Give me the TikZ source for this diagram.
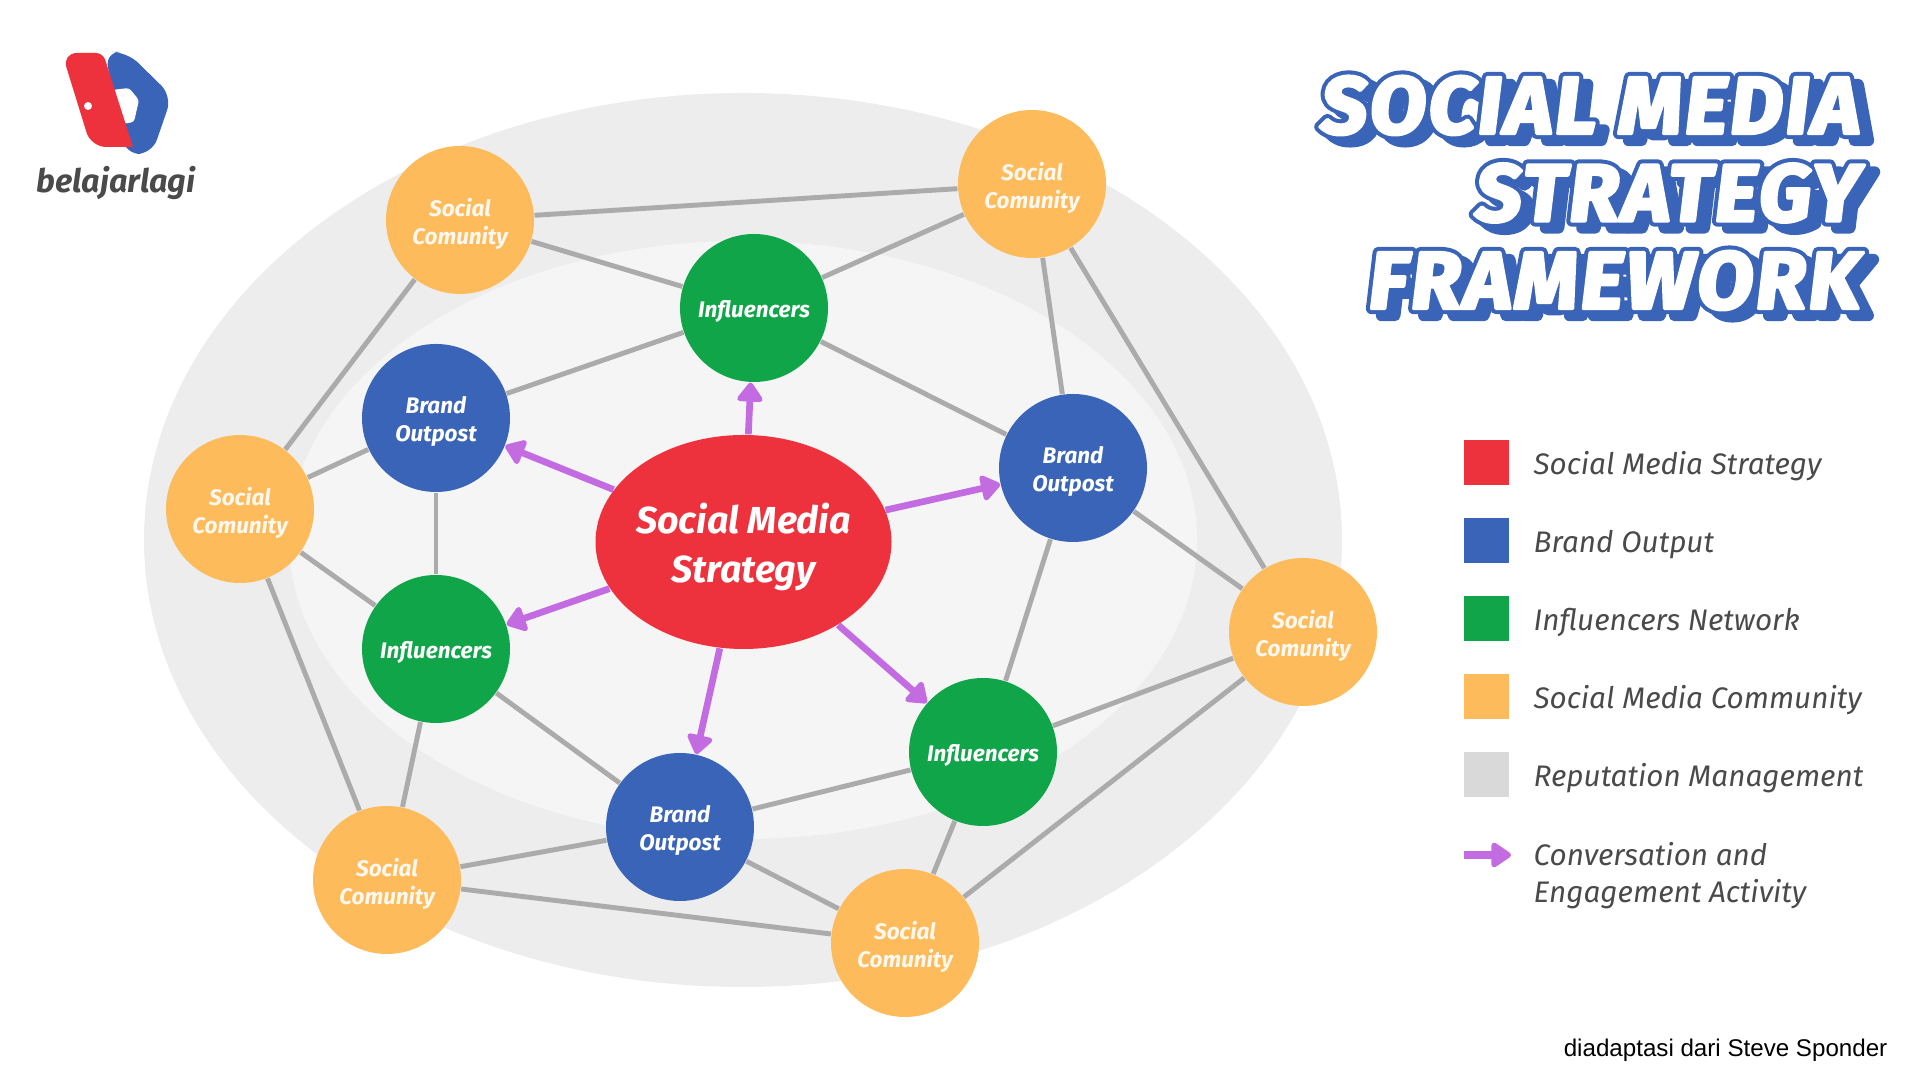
\documentclass[tikz,border=0pt]{standalone}
\usepackage{fontspec}
\setmainfont{Fira Sans}
\newfontfamily\titleback[FakeBold=14,FakeSlant=0.12,LetterSpace=3.5]{Fira Sans}
\newfontfamily\titlefront[FakeBold=4,FakeSlant=0.12,LetterSpace=3.5]{Fira Sans}
\newfontfamily\footfont{Liberation Sans}
\usetikzlibrary{positioning}
\usetikzlibrary{backgrounds}
\usetikzlibrary{shapes.geometric}
\usetikzlibrary{arrows.meta}
\definecolor{stratred}{HTML}{EE323D}
\definecolor{brandblue}{HTML}{3A64B7}
\definecolor{inflgreen}{HTML}{11A54A}
\definecolor{socialyellow}{HTML}{FDBB5C}
\definecolor{linkgrey}{HTML}{ABABAB}
\definecolor{repgrey}{HTML}{D9D9D9}
\definecolor{convpurple}{HTML}{C36BE0}
\definecolor{textgrey}{HTML}{4A4A4A}
\newcommand{\low}[2][1.05pt]{\raisebox{-#1}[\height][\depth]{#2}}
\tikzset{
  hub/.style={circle,minimum size=1.48cm,inner sep=0pt,text=white,align=center,
    font=\fontsize{6.4}{8}\selectfont\bfseries\itshape},
  social/.style={hub,fill=socialyellow,text=white!90!socialyellow},
  brand/.style={hub,fill=brandblue},
  infl/.style={hub,fill=inflgreen},
  link/.style={draw=linkgrey,line width=1.4pt},
  conv/.style={draw=convpurple,line width=1.9pt,-{Triangle[length=.21cm,width=.29cm,round]}},
  swatch/.style={minimum size=.45cm,inner sep=0pt,outer sep=0pt},
  legend/.style={text=textgrey,inner sep=0pt,align=left,
    font=\fontsize{8.45}{10.5}\selectfont\itshape},
  swatchlabel/.style={legend,text height=.33cm,text depth=.08cm},
  titletxt/.style={anchor=east,align=right,inner sep=0pt}
}
\begin{document}
\begin{tikzpicture}
\useasboundingbox (0,0) rectangle (19.2,10.8);
% centre and arrows
\node[ellipse,fill=stratred,minimum width=2.96cm,minimum height=2.14cm,inner sep=0pt,
  text=white,align=center,font=\fontsize{10.7}{13.7}\selectfont\bfseries\itshape]
  (strategy) at (7.435,5.38) {\makebox[0pt]{\low[1.4pt]{Social Media}}\\\makebox[0pt]{\low[1.4pt]{Strategy}}};
\foreach \name/\x/\y in {s1/4.60/8.60,s2/10.32/8.96,s3/2.40/5.71,s4/13.03/4.48,s5/3.87/2.00,s6/9.05/1.37} {
\node[social] (\name) at (\x,\y) {\low{Social}\\\low{Comunity}};
}
\foreach \name/\x/\y in {b1/4.36/6.62,b2/10.73/6.12,b3/6.80/2.53} {
\node[brand] (\name) at (\x,\y) {\low{Brand}\\\low{Outpost}};
}
\foreach \name/\x/\y in {i1/7.54/7.72,i2/4.36/4.31,i3/9.83/3.28} {
\node[infl] (\name) at (\x,\y) {\low{Influencers}};
}
\begin{scope}[on background layer]
\fill[black!7] (7.43,5.40) ellipse (5.99cm and 4.47cm);
\fill[black!4] (7.43,5.40) ellipse (4.54cm and 2.99cm);
\foreach \a/\b in {s1/s2,s1/i1,s2/i1,s2/b2,s2/s4,s1/s3,s3/b1,s3/i2,s3/s5,b1/i1,b1/i2,i1/b2,
  b2/s4,b2/i3,i3/s4,s4/s6,i2/s5,i2/b3,b3/s5,b3/i3,b3/s6,i3/s6,s5/s6} {
\draw[link] (\a) -- (\b);
}
\end{scope}
\foreach \b in {i1,b1,b2,i2,i3,b3} {
\draw[conv] (strategy) -- (\b);
}
% logo
\fill[brandblue,rounded corners=.15cm] (1.05,10.28) -- (1.27,10.28) -- (1.72,9.84) -- (1.52,9.26) -- (1.25,9.26) -- cycle;
\fill[white,rounded corners=.03cm] (1.12,9.90) -- (1.29,9.92) -- (1.39,9.80) -- (1.34,9.58) -- (1.22,9.56) -- cycle;
\fill[stratred] [rounded corners=.07cm] (.62,10.27) -- (1.03,10.27) [sharp corners] -- (1.33,9.33) [rounded corners=.15cm] -- (.91,9.33) -- cycle;
\fill[white] (.88,9.74) circle (.04cm);
\node[text=textgrey,inner sep=0pt,font=\fontsize{9.2}{11}\selectfont\bfseries\itshape] (logotext) at (1.16,8.97) {belajarlagi};
% title
\begin{scope}[line join=round]
\node[titletxt,text=brandblue,font=\fontsize{23}{24.9}\selectfont\titleback\bfseries] (titleshadow) at (18.68,8.80) {SOCIAL MEDIA\\STRATEGY\\FRAMEWORK};
\node[titletxt,text=brandblue,font=\fontsize{23}{24.9}\selectfont\titleback\bfseries] (titleline) at (18.58,8.87) {SOCIAL MEDIA\\STRATEGY\\FRAMEWORK};
\node[titletxt,text=white,font=\fontsize{23}{24.9}\selectfont\titlefront\bfseries] (title) at (18.58,8.87) {SOCIAL MEDIA\\STRATEGY\\FRAMEWORK};
\end{scope}
% legend
\node[swatch,fill=stratred] (sw1) at (14.865,6.175) {};
\node[swatch,fill=brandblue,below=.33cm of sw1] (sw2) {};
\node[swatch,fill=inflgreen,below=.33cm of sw2] (sw3) {};
\node[swatch,fill=socialyellow,below=.33cm of sw3] (sw4) {};
\node[swatch,fill=repgrey,below=.33cm of sw4] (sw5) {};
\node[swatchlabel,right=.24cm of sw1] (lg1) {Social Media Strategy};
\node[swatchlabel,right=.24cm of sw2] (lg2) {Brand Output};
\node[swatchlabel,right=.24cm of sw3] (lg3) {Influencers Network};
\node[swatchlabel,right=.24cm of sw4] (lg4) {Social Media Community};
\node[swatchlabel,right=.24cm of sw5] (lg5) {Reputation Management};
\coordinate (arrowa) at (14.64,2.25);
\coordinate (arrowb) at (15.11,2.25);
\draw[convpurple,line width=2.4pt,-{Triangle[length=.22cm,width=.28cm,round]}] (arrowa) -- (arrowb);
\node[legend,anchor=west] (lg6) at (15.33,2.04) {Conversation and\\Engagement Activity};
\node[anchor=east,inner sep=0pt,font=\fontsize{6.87}{8}\selectfont\footfont] (credit) at (18.88,.30) {diadaptasi dari Steve Sponder};
\end{tikzpicture}
\end{document}
